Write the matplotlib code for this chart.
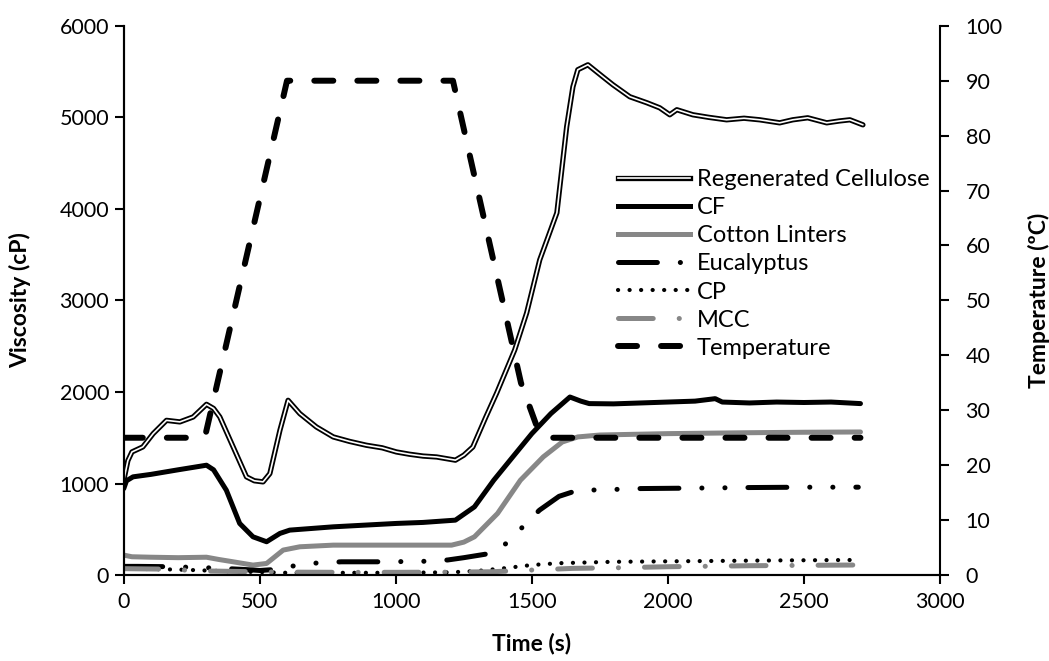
# RVA viscosity profiles + temperature, secondary axis
import matplotlib
matplotlib.use("Agg")
import matplotlib.pyplot as plt
from matplotlib.lines import Line2D

plt.rcParams['font.family'] = ['Lato', 'DejaVu Sans']
plt.rcParams['lines.scale_dashes'] = False

# --- data (time s, viscosity cP) ---
rc_t = [0, 15, 30, 70, 108, 157, 206, 255, 304, 330, 353, 402, 451, 480, 512, 537, 574,
        604, 647, 708, 770, 830, 892, 950, 1002, 1050, 1100, 1150, 1219, 1250, 1283, 1331,
        1371, 1437, 1481, 1529, 1592, 1628, 1651, 1669, 1706, 1761, 1798, 1860, 1923, 1970,
        2007, 2033, 2092, 2150, 2216, 2280, 2338, 2411, 2459, 2514, 2584, 2630, 2669, 2717]
rc_v = [1036, 1250, 1345, 1400, 1545, 1690, 1673, 1727, 1865, 1820, 1727, 1400, 1073, 1030,
        1018, 1109, 1582, 1909, 1764, 1618, 1509, 1460, 1418, 1390, 1345, 1320, 1300, 1290,
        1255, 1310, 1399, 1727, 1990, 2459, 2864, 3443, 3957, 4897, 5334, 5520, 5574, 5443,
        5356, 5225, 5159, 5104, 5028, 5083, 5028, 5000, 4973, 4990, 4973, 4940, 4973, 4995,
        4940, 4960, 4973, 4918]

cf_t = [0, 10, 34, 100, 200, 304, 330, 377, 426, 475, 525, 574, 610, 770, 1002, 1100, 1219,
        1289, 1360, 1430, 1500, 1570, 1640, 1680, 1711, 1800, 1900, 2000, 2100, 2174, 2200,
        2300, 2400, 2500, 2600, 2708]
cf_v = [945, 1030, 1073, 1100, 1150, 1200, 1150, 927, 564, 418, 364, 455, 491, 527, 564, 575,
        600, 745, 1036, 1291, 1545, 1764, 1945, 1900, 1873, 1870, 1880, 1890, 1900, 1927, 1890,
        1880, 1890, 1885, 1890, 1873]

cl_t = [0, 30, 100, 200, 304, 350, 402, 475, 525, 586, 647, 770, 1002, 1205, 1250, 1289, 1374,
        1458, 1542, 1612, 1669, 1750, 2000, 2300, 2500, 2708]
cl_v = [218, 200, 195, 190, 195, 170, 145, 109, 127, 273, 309, 327, 327, 327, 360, 418, 673,
        1036, 1291, 1454, 1509, 1530, 1545, 1555, 1560, 1563]

eu_t = [0, 50, 150, 250, 350, 450, 500, 550, 600, 700, 800, 950, 1100, 1191, 1250, 1346, 1416,
        1472, 1528, 1600, 1669, 1750, 1900, 2100, 2300, 2500, 2700]
eu_v = [95, 95, 92, 85, 75, 60, 50, 60, 90, 130, 145, 145, 150, 165, 190, 236, 364, 545, 709,
        860, 927, 930, 945, 950, 956, 960, 960]

cp_t = [0, 200, 400, 600, 800, 1000, 1200, 1300, 1400, 1500, 1600, 1800, 2000, 2200, 2400, 2700]
cp_v = [70, 60, 40, 25, 25, 25, 30, 45, 75, 110, 130, 145, 150, 155, 160, 165]

mcc_t = [0, 150, 300, 450, 600, 800, 1000, 1200, 1350, 1500, 1650, 1816, 2000, 2300, 2450, 2690]
mcc_v = [70, 65, 45, 38, 32, 30, 30, 32, 36, 55, 73, 80, 91, 102, 105, 110]

temp_t = [0, 290, 300, 600, 1210, 1460, 1515, 1550, 2708]
temp_v = [25, 25, 25.5, 90, 90, 35, 27.5, 25, 25]

gray = '#878787'

fig = plt.figure(figsize=(10.49, 6.61), dpi=100)
ax = fig.add_axes([0.118, 0.130, 0.778, 0.831])
ax2 = ax.twinx()

common = dict(solid_capstyle='round', solid_joinstyle='round', dash_capstyle='round')

# double line: black outline with white core
ax.plot(rc_t, rc_v, color='black', lw=3.8, **common)
ax.plot(rc_t, rc_v, color='white', lw=1.2, **common)
ax.plot(cf_t, cf_v, color='black', lw=3.6, **common)
ax.plot(cl_t, cl_v, color=gray, lw=3.6, **common)
ax.plot(eu_t, eu_v, color='black', lw=3.6, dashes=(28, 16.5, 0.1, 16.5, 0.1, 16.5), **common)
ax.plot(cp_t, cp_v, color='black', lw=3.0, dashes=(0.1, 8.2), **common)
ax.plot(mcc_t, mcc_v, color=gray, lw=3.6, dashes=(25, 18.7, 0.1, 18.7), **common)
ax2.plot(temp_t, temp_v, color='black', lw=4.3, dashes=(13.7, 17.3), **common)

ax.set_xlim(0, 3000)
ax.set_ylim(0, 6000)
ax2.set_ylim(0, 100)
ax.set_xticks(range(0, 3001, 500))
ax.set_yticks(range(0, 6001, 1000))
ax2.set_yticks(range(0, 101, 10))

for a in (ax, ax2):
    a.spines['top'].set_visible(False)
    for s in a.spines.values():
        s.set_linewidth(1.5)
    a.tick_params(direction='out', length=6.5, width=1.5, labelsize=15.5)
ax.spines['right'].set_visible(False)
ax.tick_params(axis='y', pad=4)
ax.tick_params(axis='x', pad=6)
ax2.tick_params(axis='y', pad=12)

ax.set_xlabel('Time (s)', fontsize=16.5, fontweight='bold')
ax.set_ylabel('Viscosity (cP)', fontsize=16.5, fontweight='bold')
ax2.set_ylabel('Temperature (ºC)', fontsize=16.5, fontweight='bold')
ax.xaxis.set_label_coords(0.5, -0.104)
ax.yaxis.set_label_coords(-0.113, 0.5)
ax2.yaxis.set_label_coords(1.108, 0.5)

# legend (proxy handles matching the styles)
handles = [
    (Line2D([], [], color='black', lw=3.8), Line2D([], [], color='white', lw=1.2)),
    Line2D([], [], color='black', lw=3.6),
    Line2D([], [], color=gray, lw=3.6),
    Line2D([], [], color='black', lw=3.6, dashes=(28, 16.5, 0.1, 16.5), **common),
    Line2D([], [], color='black', lw=3.0, dashes=(0.1, 8.2), **common),
    Line2D([], [], color=gray, lw=3.6, dashes=(25, 18.7, 0.1, 18.7), **common),
    Line2D([], [], color='black', lw=4.3, dashes=(13.7, 17.3), **common),
]
labels = ['Regenerated Cellulose', 'CF', 'Cotton Linters', 'Eucalyptus', 'CP', 'MCC', 'Temperature']
leg = ax2.legend(handles, labels, loc='upper left', bbox_to_anchor=(0.589, 0.744),
                 bbox_transform=fig.transFigure, frameon=False, fontsize=17,
                 handlelength=3.05, handletextpad=0.3, labelspacing=0.3, borderpad=0,
                 borderaxespad=0)

fig.savefig('out.png', dpi=100)
